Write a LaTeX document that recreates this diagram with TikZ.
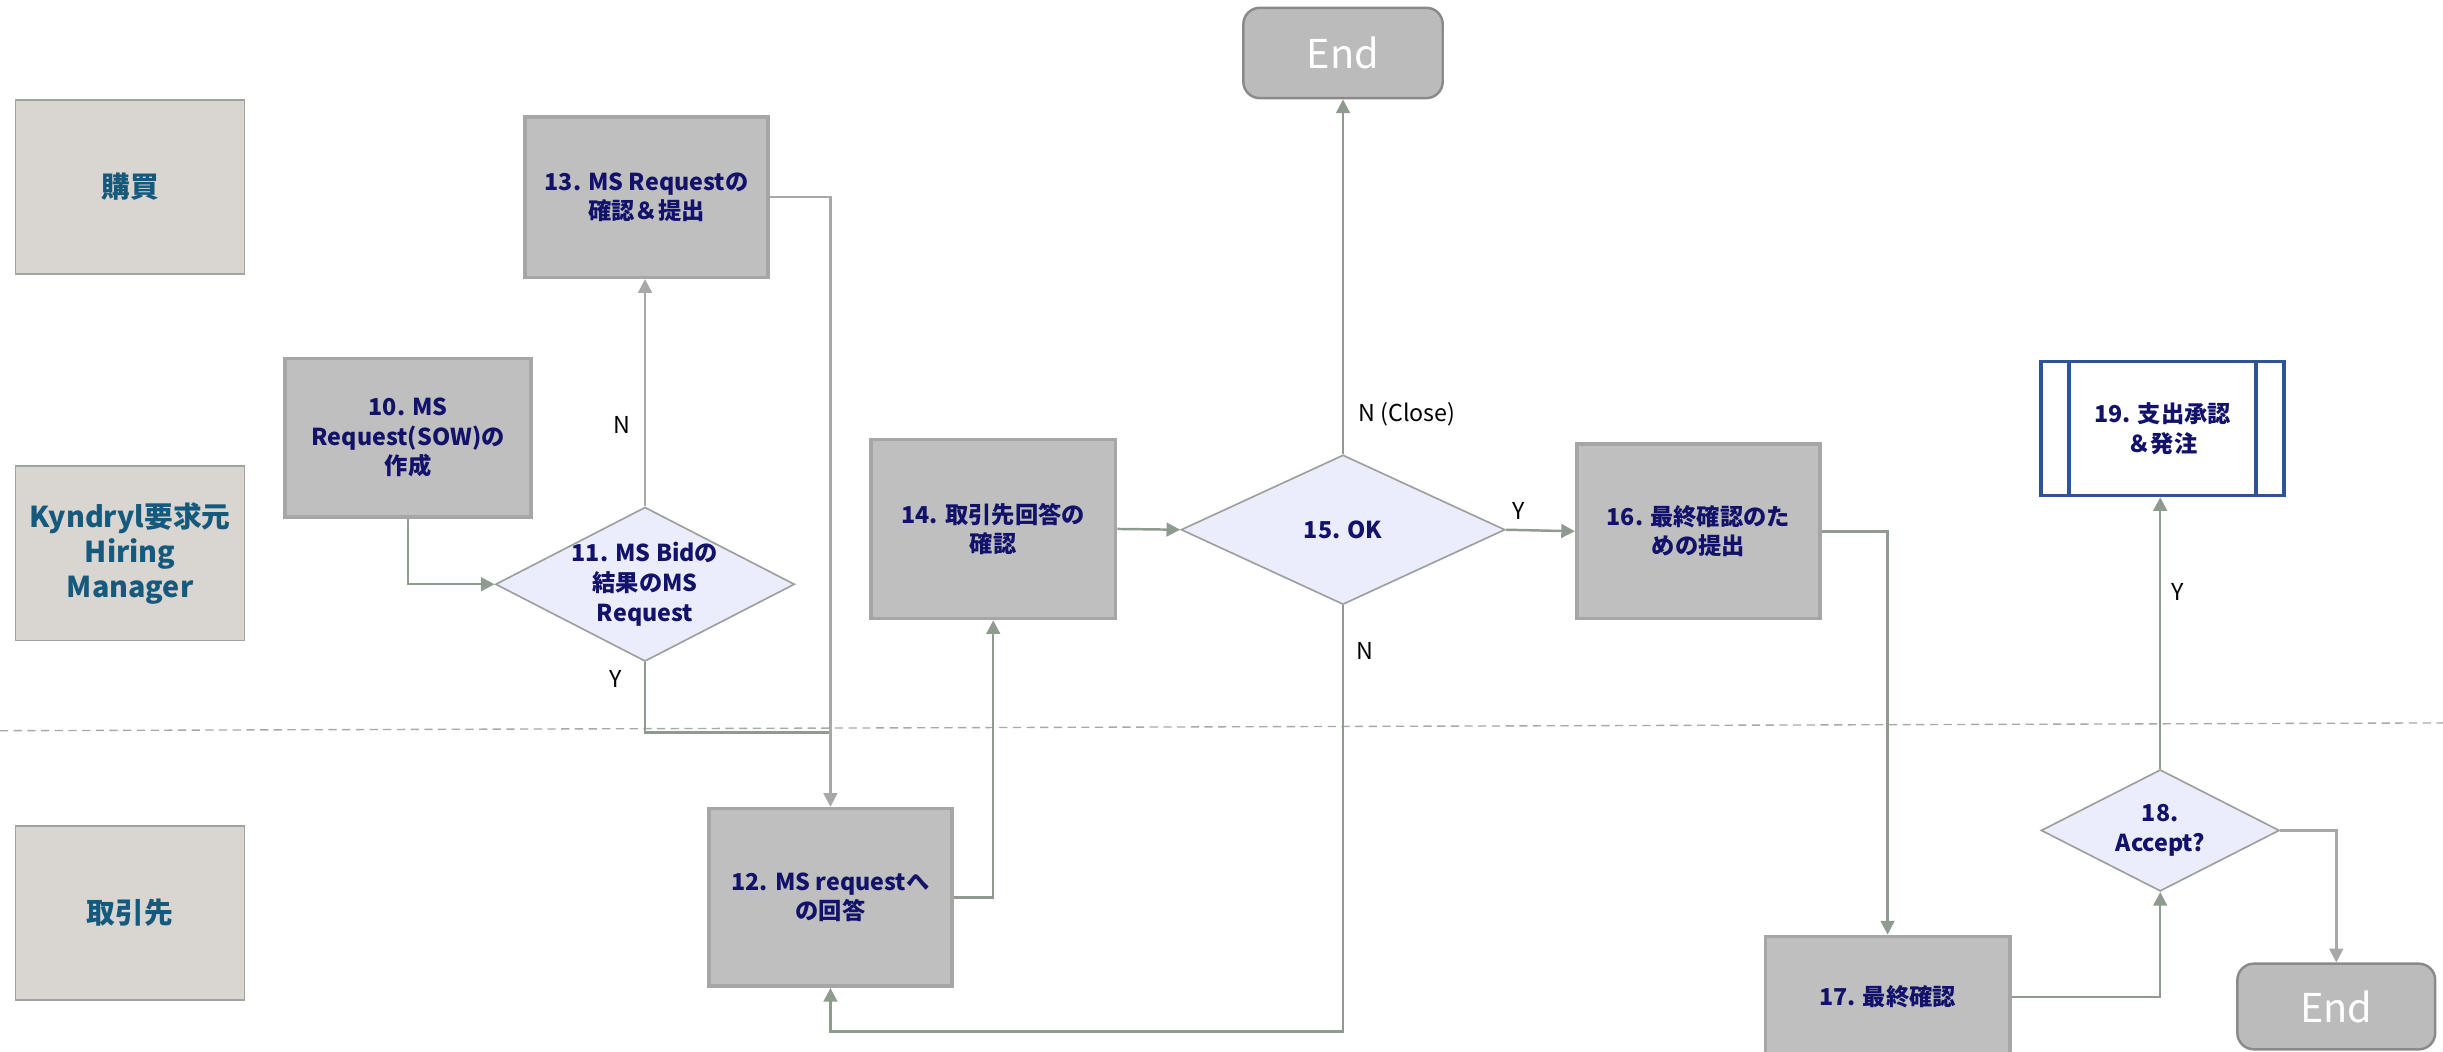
\documentclass[tikz,border=0pt]{standalone}
\usepackage{fontspec}
\setmainfont{Noto Sans CJK JP}
\usepackage{xcolor}
\usetikzlibrary{shapes.geometric, arrows.meta, positioning, calc}

\definecolor{lanefill}{HTML}{D9D5D1}
\definecolor{laneline}{HTML}{9DA59D}
\definecolor{lanetext}{HTML}{155A7D}
\definecolor{procfill}{HTML}{BFBFBF}
\definecolor{procline}{HTML}{A6A6A6}
\definecolor{navy}{HTML}{12126A}
\definecolor{decfill}{HTML}{EBECFC}
\definecolor{decline}{HTML}{9AA19A}
\definecolor{flowc}{HTML}{8F9B8F}
\definecolor{flowg}{HTML}{A8A8A8}
\definecolor{endfill}{HTML}{BBBBBB}
\definecolor{endline}{HTML}{8A8A8A}
\definecolor{subline}{HTML}{2F5496}

\begin{document}
\begin{tikzpicture}[x=0.02cm, y=-0.02cm,
  lane/.style={draw=laneline, fill=lanefill, line width=0.6pt, minimum width=2.94cm, minimum height=2.24cm, text=lanetext, font=\bfseries\fontsize{10.5}{12.8}\selectfont, align=center},
  proc/.style={draw=procline, fill=procfill, line width=1.3pt, text=navy, font=\bfseries\fontsize{8.5}{10.8}\selectfont, align=center},
  dec/.style={diamond, draw=decline, fill=decfill, line width=0.6pt, inner sep=-4pt, aspect=2, text=navy, font=\bfseries\fontsize{8.5}{10.8}\selectfont, align=center},
  term/.style={rounded corners=6pt, draw=endline, fill=endfill, line width=0.9pt, text=white, font=\fontsize{14.5}{16}\selectfont},
  flow/.style={draw=flowc, line width=0.9pt, -{Triangle[length=5pt, width=5pt]}},
  flowgray/.style={draw=flowg, line width=0.9pt, -{Triangle[length=5pt, width=5pt]}},
  lbl/.style={font=\fontsize{8.5}{10}\selectfont, inner sep=1pt}]
\useasboundingbox (0,0) rectangle (1568,675);

% Lane separator
\draw[flowg, dashed, dash pattern=on 3pt off 2pt, line width=0.5pt] (0,469) -- (1568,464);

% Lane labels
\node[lane] (buy) at (83.5,120) {購買};
\node[lane] (kyn) at (83.5,355) {Kyndryl要求元\\Hiring\\Manager};
\node[lane] (sup) at (83.5,586) {取引先};

% Steps
\node[proc, minimum width=3.16cm, minimum height=2.04cm] (s10) at (262,281) {10. MS\\Request(SOW)の\\作成};
\node[dec, minimum width=3.84cm, minimum height=1.98cm] (d11) at (414,375) {11. MS Bidの\\結果のMS\\Request};
\node[proc, minimum width=3.12cm, minimum height=2.28cm] (s12) at (533,576) {12. MS requestへ\\の回答};
\node[proc, minimum width=3.12cm, minimum height=2.06cm] (s13) at (415,126.5) {13. MS Requestの\\確認＆提出};
\node[proc, minimum width=3.14cm, minimum height=2.30cm] (s14) at (637.5,339.5) {14. 取引先回答の\\確認};
\node[dec, minimum width=4.16cm, minimum height=1.92cm] (d15) at (862,340) {15. OK};
\node[term, minimum width=2.56cm, minimum height=1.16cm] (endA) at (862,34) {End};
\node[proc, minimum width=3.12cm, minimum height=2.24cm] (s16) at (1090,341) {16. 最終確認のた\\めの提出};
\node[proc, minimum width=3.14cm, minimum height=1.56cm] (s17) at (1211.5,640) {17. 最終確認};
\node[dec, minimum width=3.06cm, minimum height=1.56cm] (d18) at (1386.5,533) {18.\\Accept?};
\node[draw=subline, fill=white, line width=1.3pt, text=navy, font=\bfseries\fontsize{8.5}{10.8}\selectfont, align=center, minimum width=3.12cm, minimum height=1.72cm] (s19) at (1388,275) {19. 支出承認\\＆発注};
\draw[subline, line width=1.3pt] ([xshift=0.38cm]s19.north west) -- ([xshift=0.38cm]s19.south west);
\draw[subline, line width=1.3pt] ([xshift=-0.38cm]s19.north east) -- ([xshift=-0.38cm]s19.south east);
\node[term, minimum width=2.54cm, minimum height=1.10cm] (endB) at (1499.5,646) {End};

% Connectors
\coordinate (ymerge) at (533,470);
\coordinate (nback) at (862,662);
\draw[flow] (s10.south) |- (d11.west);
\draw[flowgray] (d11.north) -- (d11.north |- s13.south);
\draw[draw=flowc, line width=0.9pt] (d11.south) |- (ymerge);
\draw[flowgray] (s13.east) -| (s12.north);
\draw[flow] (s12.east) -| (s14.south);
\draw[flow] (s14.east) -- (d15.west);
\draw[flow] (d15.north) -- (endA.south);
\draw[flow] (d15.south) -- (nback) -| (s12.south);
\draw[flow] (d15.east) -- (s16.west);
\draw[flow] (s16.east) -| (s17.north);
\draw[flow] (s17.east) -| (d18.south);
\draw[flow] (d18.north) -- (d18.north |- s19.south);
\draw[flowgray] (d18.east) -| (endB.north);

% Branch labels
\node[lbl] (n11) at (399,273) {N};
\node[lbl] (y11) at (395,436) {Y};
\node[lbl] (n15a) at (903,266) {N (Close)};
\node[lbl] (n15b) at (876,418) {N};
\node[lbl] (y15) at (975,328) {Y};
\node[lbl] (y18) at (1398,380) {Y};

\end{tikzpicture}
\end{document}
